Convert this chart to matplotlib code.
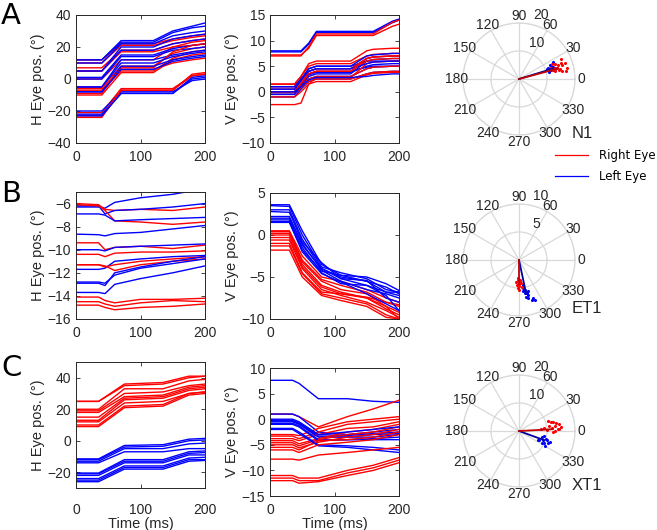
import numpy as np
import matplotlib
matplotlib.use('Agg')
import matplotlib.pyplot as plt
from matplotlib.lines import Line2D

plt.rcParams['font.family'] = ['Liberation Sans', 'DejaVu Sans']

# ---- panel A : horizontal / vertical eye traces ----
tA_h = [0, 40, 70, 120, 150, 180, 200]
A_h_left = [
    [12, 12, 24, 24, 30, 33, 35],
    [12, 12, 23, 23, 29, 32, 33],
    [10, 10, 22, 22, 27, 29, 30],
    [5, 5, 20, 20, 25, 27, 28],
    [5, 5, 18, 18, 22, 24, 25],
    [1, 1, 15, 15, 19, 21, 22],
    [0, 0, 14, 14, 18, 19, 20],
    [-5, -5, 12, 12, 15, 17, 18],
    [-5, -5, 10, 10, 14, 16, 17],
    [-8, -8, 8, 8, 12, 14, 15],
    [-8, -8, 6, 6, 11, 13, 14],
    [-20, -20, -8, -8, -8, -1, 0],
    [-22, -22, -9, -9, -9, 0, 1],
    [-23, -23, -9, -9, -9, 1, 2],
]
A_h_right = [
    [12, 12, 22, 22, 25, 27, 28],
    [10, 10, 21, 21, 24, 26, 27],
    [7, 7, 18, 18, 22, 24, 25],
    [5, 5, 17, 17, 20, 21, 22],
    [0, 0, 12, 12, 20, 23, 24],
    [-5, -5, 8, 8, 16, 19, 20],
    [-7, -7, 5, 5, 13, 17, 18],
    [-9, -9, 7, 7, 17, 21, 22],
    [-10, -10, 4, 4, 12, 15, 16],
    [-6, -6, 6, 6, 10, 12, 13],
    [-21, -21, -6, -6, -6, 2, 3],
    [-23, -23, -7, -7, -7, 3, 4],
    [-24, -24, -7, -7, -7, 2, 3],
]

tA_v = [0, 38, 48, 60, 72, 125, 150, 160, 190, 200]
A_v_left = [
    [8, 8, 8, 9.5, 11.8, 11.8, 11.8, 11.8, 13.8, 14.2],
    [7.8, 7.8, 7.8, 9.3, 11.6, 11.6, 11.6, 11.6, 13.5, 14.0],
    [1, 1, 2.5, 4.5, 5, 5, 6, 6, 6, 6],
    [0.5, 0.5, 2, 4, 4.5, 4.5, 6.5, 6.8, 7, 7],
    [0, 0, 1.5, 3.5, 4, 4, 4.8, 5, 5, 5],
    [0, 0, 1.2, 3, 3.5, 3.5, 6, 6.3, 6.5, 6.5],
    [-0.5, -0.5, 1, 2.5, 3, 3, 4.5, 4.8, 5, 5],
    [-1, -1, 0.5, 2, 2.5, 2.5, 3.5, 3.8, 4, 4],
    [0.5, 0.5, 2.2, 4.5, 5, 5, 7, 7.2, 7.5, 7.5],
    [-0.5, -0.5, 1.2, 3.3, 3.8, 3.8, 5, 5.3, 5.5, 5.5],
    [1, 1, 2.5, 4, 4.5, 4.5, 5.5, 5.8, 6, 6],
    [0, 0, 1, 2.3, 2.8, 2.8, 3, 3.2, 3.5, 3.5],
]
A_v_right = [
    [7.2, 7.2, 7.2, 8.5, 11, 11, 11, 11, 12.8, 13.2],
    [7.0, 7.0, 7.0, 8.8, 11.3, 11.3, 11.3, 11.3, 13.6, 14.0],
    [1.5, 1.5, 3, 5.5, 6, 6, 8, 8.3, 8.5, 8.5],
    [1.5, 1.5, 3, 5, 5.5, 5.5, 7, 7.3, 7.5, 7.5],
    [1, 1, 2.5, 4, 4.5, 4.5, 6.5, 6.8, 7, 7],
    [0.5, 0.5, 2, 3.5, 4, 4, 6, 6.3, 6.5, 6.5],
    [0, 0, 1.5, 2.5, 3, 3, 4.5, 4.8, 5, 5],
    [-0.5, -0.5, 0.8, 2, 2.5, 2.5, 3.5, 3.8, 4, 4],
    [-1, -1, 0, 1.5, 2, 2, 3.3, 3.6, 3.8, 3.8],
    [-2.5, -2.5, -2.2, 1.5, 2.8, 2.8, 5.5, 5.8, 6, 6],
    [0, 0, 1.5, 3.5, 4, 4, 6.5, 6.8, 7, 7],
]

# ---- panel B ----
tB_h = [0, 35, 45, 60, 100, 150, 200]
B_h_left = [
    [-6.3, -6.3, -6.4, -5.9, -5.5, -5.2, -4.7],
    [-6.2, -6.2, -6.9, -6.6, -6.5, -6.3, -6.0],
    [-6.9, -6.9, -7.0, -7.5, -7.4, -7.3, -7.2],
    [-8.65, -8.7, -8.8, -8.6, -8.5, -8.2, -7.9],
    [-10.0, -10.0, -10.1, -9.8, -9.7, -9.6, -9.5],
    [-11.7, -11.7, -11.6, -11.0, -10.8, -10.6, -10.5],
    [-12.8, -12.8, -12.9, -12.2, -11.6, -11.2, -10.8],
    [-12.9, -12.9, -13.1, -12.0, -11.5, -11.0, -10.6],
    [-13.7, -13.7, -13.8, -13.0, -12.5, -12.0, -11.4],
]
B_h_right = [
    [-6.0, -6.1, -6.5, -6.6, -6.5, -6.6, -6.3],
    [-6.1, -6.2, -6.6, -7.5, -7.6, -7.8, -7.6],
    [-9.4, -9.4, -10.0, -9.8, -9.7, -9.9, -9.6],
    [-10.4, -10.4, -10.6, -10.3, -10.2, -10.2, -10.1],
    [-11.3, -11.3, -11.4, -11.8, -11.3, -11.0, -10.8],
    [-11.3, -11.3, -11.5, -11.3, -11.0, -10.8, -10.6],
    [-14.1, -14.1, -14.4, -14.6, -14.3, -14.3, -14.2],
    [-14.5, -14.5, -14.7, -14.9, -14.6, -14.4, -14.5],
    [-14.8, -14.8, -15.0, -15.2, -15.0, -14.9, -14.7],
]

tB_v = [0, 30, 50, 80, 110, 150, 180, 200]
B_v_left = [
    [3.6, 3.6, 0.5, -3.5, -4.8, -5.0, -5.8, -6.6],
    [3.5, 3.4, 0.0, -3.8, -4.5, -5.2, -6.5, -6.8],
    [3.0, 3.0, -0.5, -4.0, -5.0, -5.5, -6.8, -7.2],
    [2.8, 2.7, -0.8, -3.3, -5.2, -5.4, -7.5, -8.0],
    [2.0, 2.0, -1.0, -4.2, -5.5, -6.5, -7.0, -7.5],
    [1.8, 1.8, -1.5, -4.5, -5.8, -6.0, -7.2, -9.0],
    [1.6, 1.6, -1.8, -4.3, -4.8, -5.5, -6.2, -7.0],
    [1.5, 1.5, -2.0, -4.6, -5.6, -7.0, -8.2, -9.0],
    [2.2, 2.2, -1.2, -4.0, -5.2, -6.0, -6.8, -6.8],
]
B_v_right = [
    [0.5, 0.5, -2.5, -5.0, -5.5, -6.5, -7.5, -8.0],
    [0.4, 0.4, -3.0, -5.3, -6.0, -6.8, -8.0, -8.5],
    [0.2, 0.2, -3.2, -5.5, -6.5, -7.0, -8.5, -9.2],
    [0.0, 0.0, -3.5, -6.0, -6.8, -7.5, -8.8, -9.5],
    [-0.3, -0.3, -3.8, -6.2, -7.0, -7.4, -8.0, -8.3],
    [-0.6, -0.6, -4.0, -6.5, -7.2, -8.0, -9.0, -9.8],
    [-1.0, -1.0, -4.5, -6.8, -7.0, -7.5, -8.5, -10.0],
    [-1.3, -1.3, -4.6, -7.0, -7.5, -8.2, -9.5, -10.0],
    [-1.8, -1.8, -5.0, -7.2, -7.8, -8.5, -9.8, -10.0],
]

# ---- panel C ----
tC_h = [0, 35, 75, 135, 175, 200]
C_h_left = [
    [-11.5, -11.5, -3, -2.5, 1, 1.5],
    [-12, -12, -4, -3.5, 0, 0.5],
    [-13, -13, -5, -5, -2, -1.5],
    [-14, -14, -7, -7, -5, -5],
    [-20.5, -20.5, -12, -12, -7, -6.5],
    [-21, -21, -13, -13, -8, -7.5],
    [-22, -22, -14, -14, -9, -9],
    [-24, -24, -16, -16, -11, -10.5],
    [-25, -25, -17, -17, -12, -12],
    [-26, -26, -18, -18, -13, -12.5],
]
C_h_right = [
    [25, 25, 36, 37, 41, 41],
    [25, 25, 35, 36, 40, 41],
    [20, 20, 33, 33, 38, 39],
    [19, 19, 30, 31, 35, 36],
    [18, 18, 28, 29, 34, 35],
    [15, 15, 27, 28, 33, 34],
    [13, 13, 26, 27, 32, 33],
    [12, 12, 24, 25, 30, 31],
    [10, 10, 22, 23, 30, 31],
    [9, 9, 21, 22, 29, 30],
]

tC_v = [0, 35, 45, 75, 120, 160, 200]
C_v_left = [
    [7.6, 7.6, 7.0, 4.0, 4.0, 3.5, 3.3],
    [1.0, 1.0, 0.5, -2.5, -3.0, -2.5, -2.0],
    [0.0, 0.0, -0.5, -3.0, -3.2, -2.8, -2.5],
    [-0.3, -0.3, -0.8, -3.3, -3.5, -3.0, -2.8],
    [-0.5, -0.5, -1.0, -3.5, -3.5, -3.5, -3.0],
    [-0.8, -0.8, -1.3, -4.0, -4.0, -3.8, -3.5],
    [-1.0, -1.0, -1.5, -4.2, -4.0, -4.0, -4.0],
    [-1.8, -1.8, -2.5, -5.0, -5.2, -5.5, -6.0],
    [-2.0, -2.0, -2.8, -5.2, -5.5, -6.0, -6.5],
    [-0.2, -0.2, -0.8, -3.0, -2.5, -2.0, -1.5],
]
C_v_right = [
    [1.0, 1.0, 0.5, -1.5, 0.5, 2.0, 3.7],
    [-3.0, -3.0, -3.2, -1.8, -0.5, 0.0, 0.5],
    [-3.3, -3.3, -3.8, -2.5, -1.0, -0.5, 0.0],
    [-3.8, -3.8, -4.2, -3.0, -1.8, -1.5, -0.5],
    [-4.2, -4.2, -4.8, -3.8, -2.5, -2.0, -1.0],
    [-4.6, -4.6, -5.2, -4.0, -3.0, -2.5, -1.5],
    [-5.0, -5.0, -5.6, -4.5, -3.5, -3.0, -2.0],
    [-5.5, -5.5, -6.0, -4.2, -4.0, -3.5, -2.5],
    [-6.0, -6.0, -6.5, -5.0, -4.5, -4.0, -3.0],
    [-7.8, -7.8, -8.0, -7.0, -6.5, -6.0, -5.5],
    [-11.0, -11.0, -11.5, -11.5, -10.0, -9.0, -7.5],
    [-11.5, -11.5, -12.0, -12.0, -10.5, -9.5, -8.0],
    [-12.0, -12.0, -12.5, -12.2, -11.0, -10.0, -8.5],
]

# ---- polar scatter (angle deg, amplitude deg) ----
polA_right = [(14, 15), (16, 14), (18, 16), (12, 13), (20, 15), (22, 14), (15, 12.5),
              (25, 16.5), (10, 17), (17, 13.5), (13, 14.5), (19, 12), (24, 13),
              (19, 17.4), (11, 15.5), (12.6, 17.5), (21, 16)]
polA_left = [(15, 12), (18, 11.5), (20, 13), (22, 12.5), (13, 11), (17, 14), (24, 12),
             (19, 10.5), (16, 13.5), (21, 11), (14, 13), (26, 13.5)]
polB_right = [(268, 3.5), (270, 4), (272, 3.8), (265, 4.5), (275, 4.2), (268, 5),
              (271, 4.6), (266, 3.2), (274, 3.5), (270, 5.3), (263, 4), (277, 4.8), (269, 4.3)]
polB_left = [(278, 5), (282, 5.5), (280, 6), (285, 6.5), (288, 7.5), (283, 7), (279, 4.5),
             (286, 5.8), (290, 7.2), (281, 6.8), (277, 5.6), (284, 6.1), (292, 7.8)]
polC_right = [(5, 12), (8, 13), (10, 11), (3, 14), (15, 12), (2, 10), (12, 13.5), (15.5, 12.5),
              (7, 9), (-2, 12), (18, 11), (2.4, 14.4), (5, 15), (0, 13), (10, 14.5), (4, 8)]
polC_left = [(340, 9), (335, 10), (345, 8.5), (338, 11), (332, 9.5), (342, 10.5), (336, 8),
             (348, 9), (330, 10.8), (341, 11.8), (334, 7.5), (344, 10)]
mean_right = [(15, 14.5), (270, 4.2), (3, 12)]
mean_left = [(17, 12.5), (282, 6.2), (340, 9.5)]
pol_rmax = [20, 10, 20]
pol_names = ['N1', 'ET1', 'XT1']

ink = '#262626'
W, H = 657, 530
fig = plt.figure(figsize=(6.57, 5.30), dpi=100)


def px_axes(x0, y0, x1, y1, **kw):
    return fig.add_axes([x0 / W, 1 - y1 / H, (x1 - x0) / W, (y1 - y0) / H], **kw)


def trace_axes(box, t, left, right, ylim, yticks, ylabel, xlabel=False, xpad=5):
    ax = px_axes(*box)
    n = max(len(left), len(right))
    for i in range(n):
        if i < len(left):
            ax.plot(t, left[i], color='blue', lw=1.0)
        if i < len(right):
            ax.plot(t, right[i], color='red', lw=1.0)
    ax.set_xlim(0, 200)
    ax.set_ylim(*ylim)
    ax.set_xticks([0, 100, 200])
    ax.set_yticks(yticks)
    ax.tick_params(direction='in', top=True, right=True, length=3, width=0.6,
                   colors=ink, labelsize=10)
    ax.tick_params(axis='x', pad=xpad)
    for s in ax.spines.values():
        s.set_color(ink)
        s.set_linewidth(0.7)
    ax.set_ylabel(ylabel, fontsize=10.5, color=ink, labelpad=2)
    if xlabel:
        ax.set_xlabel('Time (ms)', fontsize=10.5, color=ink, labelpad=0)
    return ax


hl = 'H Eye pos. (°)'
vl = 'V Eye pos. (°)'
trace_axes((76, 15, 205, 143), tA_h, A_h_left, A_h_right, (-40, 40), range(-40, 41, 20), hl)
trace_axes((270, 15, 399, 143), tA_v, A_v_left, A_v_right, (-10, 15), range(-10, 16, 5), vl)
trace_axes((76, 192, 205, 319), tB_h, B_h_left, B_h_right, (-16, -5), range(-16, -5, 2), hl)
trace_axes((270, 193, 399, 319), tB_v, B_v_left, B_v_right, (-10, 5), range(-10, 6, 5), vl)
trace_axes((76, 362, 205, 488), tC_h, C_h_left, C_h_right, (-30, 50), range(-20, 41, 20), hl,
           xlabel=True, xpad=10.5)
trace_axes((270, 368, 399, 496), tC_v, C_v_left, C_v_right, (-15, 10), range(-15, 11, 5), vl,
           xlabel=True)

# polar plots
centers = [(519, 79), (519, 260), (519, 431)]
R = 56
pol_right = [polA_right, polB_right, polC_right]
pol_left = [polA_left, polB_left, polC_left]
for k in range(3):
    cx, cy = centers[k]
    ax = px_axes(cx - R, cy - R, cx + R, cy + R, projection='polar')
    rmax = pol_rmax[k]
    ax.set_ylim(0, rmax)
    ax.set_thetagrids(range(0, 360, 30), labels=[''] * 12)
    ax.set_rgrids([rmax / 2, rmax], labels=['', ''])
    ax.grid(color='#d9d9d9', lw=0.9)
    ax.spines['polar'].set_color('#d9d9d9')
    ax.spines['polar'].set_linewidth(0.9)
    ax.patch.set_alpha(0)
    for ang in range(0, 360, 30):
        ax.text(np.deg2rad(ang), rmax * 1.12, str(ang), ha='center', va='center',
                fontsize=10, color=ink, clip_on=False)
    ax.text(np.deg2rad(64), rmax * 0.71, f'{rmax / 2:g}', ha='center', va='center',
            fontsize=10, color=ink, clip_on=False)
    ax.text(np.deg2rad(71), rmax * 1.2, f'{rmax:g}', ha='center', va='center',
            fontsize=10, color=ink, clip_on=False)
    lt = np.deg2rad([p[0] for p in pol_left[k]])
    lr = [p[1] for p in pol_left[k]]
    rt = np.deg2rad([p[0] for p in pol_right[k]])
    rr = [p[1] for p in pol_right[k]]
    ax.scatter(lt, lr, s=5, color='blue', lw=0, zorder=3, clip_on=False)
    ax.scatter(rt, rr, s=5, color='red', lw=0, zorder=3, clip_on=False)
    ml, mr = mean_left[k], mean_right[k]
    ax.plot([0, np.deg2rad(ml[0])], [0, ml[1]], color='#0000a0', lw=1.3, zorder=4)
    ax.plot([0, np.deg2rad(mr[0])], [0, mr[1]], color='#c00000', lw=1.3, zorder=4)
    fig.text(572 / W, 1 - [138, 313, 490][k] / H, pol_names[k], fontsize=12,
             color=ink, va='baseline', ha='left')

# legend
handles = [Line2D([], [], color='red', lw=0.9), Line2D([], [], color='blue', lw=0.9)]
fig.legend(handles, ['Right Eye', 'Left Eye'], loc='upper left',
           bbox_to_anchor=(555 / W, 1 - 149 / H), frameon=False,
           handlelength=2.8, handletextpad=0.9, labelspacing=0.7,
           borderpad=0, borderaxespad=0, prop={'family': 'DejaVu Sans', 'size': 8.5})

# panel letters
for lab, yb in zip('ABC', [24, 202, 376]):
    fig.text(1 / W, 1 - yb / H, lab, fontsize=21, color='black', va='baseline',
             ha='left', family='DejaVu Sans')

fig.savefig('out.png', dpi=100)
